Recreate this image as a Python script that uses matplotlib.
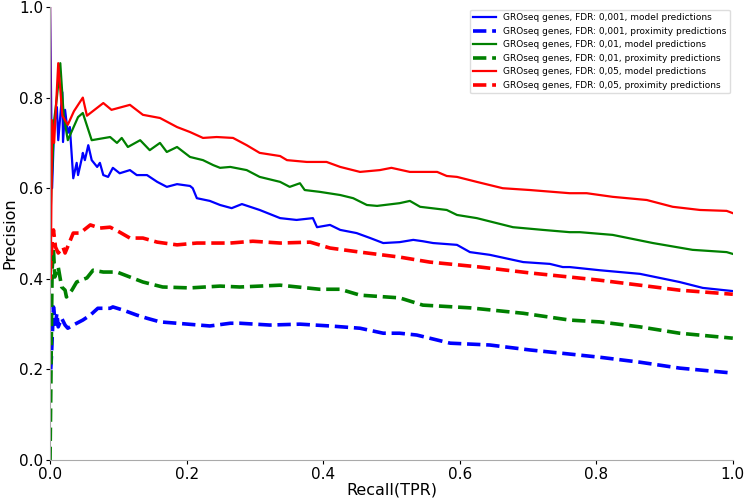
import matplotlib
matplotlib.use("Agg")
import matplotlib.pyplot as plt

# ---- data ----
r_m001 = [0.0, 0.003, 0.006, 0.010, 0.012, 0.018, 0.019, 0.022, 0.026, 0.029, 0.034, 0.039, 0.041,
          0.047, 0.048, 0.051, 0.056, 0.061, 0.069, 0.073, 0.078, 0.085, 0.092, 0.102, 0.117, 0.127,
          0.142, 0.157, 0.171, 0.186, 0.205, 0.209, 0.215, 0.234, 0.249, 0.266, 0.281, 0.307, 0.337,
          0.361, 0.385, 0.391, 0.410, 0.425, 0.449, 0.469, 0.488, 0.512, 0.532, 0.546, 0.561, 0.596,
          0.615, 0.644, 0.693, 0.732, 0.751, 0.761, 0.805, 0.864, 0.922, 0.956, 1.0]
p_m001 = [1.0, 0.60, 0.74, 0.779, 0.706, 0.812, 0.702, 0.773, 0.722, 0.735, 0.622, 0.656, 0.629,
          0.669, 0.678, 0.662, 0.695, 0.662, 0.647, 0.656, 0.629, 0.625, 0.645, 0.633, 0.640, 0.629,
          0.629, 0.614, 0.603, 0.609, 0.605, 0.600, 0.578, 0.572, 0.563, 0.556, 0.565, 0.552, 0.534,
          0.530, 0.534, 0.514, 0.519, 0.508, 0.501, 0.490, 0.479, 0.481, 0.486, 0.483, 0.479, 0.475,
          0.459, 0.453, 0.437, 0.433, 0.426, 0.426, 0.419, 0.411, 0.393, 0.380, 0.373]

r_p001 = [0.001, 0.002, 0.005, 0.008, 0.010, 0.012, 0.017, 0.022, 0.026, 0.034, 0.048, 0.059, 0.070,
          0.088, 0.092, 0.107, 0.127, 0.142, 0.161, 0.186, 0.234, 0.264, 0.278, 0.322, 0.366, 0.410,
          0.454, 0.488, 0.512, 0.537, 0.586, 0.644, 0.703, 0.761, 0.805, 0.864, 0.922, 1.0]
p_p001 = [0.20, 0.227, 0.338, 0.30, 0.324, 0.294, 0.313, 0.298, 0.291, 0.298, 0.309, 0.320, 0.335,
          0.335, 0.338, 0.331, 0.320, 0.313, 0.305, 0.302, 0.296, 0.302, 0.302, 0.298, 0.300, 0.296,
          0.291, 0.280, 0.280, 0.276, 0.258, 0.254, 0.243, 0.234, 0.227, 0.216, 0.203, 0.192]

r_m01 = [0.0, 0.002, 0.006, 0.010, 0.015, 0.020, 0.026, 0.041, 0.048, 0.061, 0.088, 0.098, 0.105,
         0.114, 0.132, 0.146, 0.161, 0.171, 0.186, 0.205, 0.224, 0.239, 0.249, 0.264, 0.288, 0.307,
         0.337, 0.351, 0.366, 0.373, 0.395, 0.425, 0.444, 0.464, 0.479, 0.512, 0.527, 0.542, 0.581,
         0.596, 0.625, 0.678, 0.722, 0.761, 0.776, 0.824, 0.883, 0.941, 0.991, 1.0]
p_m01 = [0.50, 0.60, 0.75, 0.80, 0.876, 0.76, 0.706, 0.757, 0.766, 0.706, 0.713, 0.700, 0.711,
         0.691, 0.706, 0.684, 0.700, 0.680, 0.691, 0.669, 0.662, 0.651, 0.645, 0.647, 0.640, 0.625,
         0.614, 0.603, 0.611, 0.596, 0.592, 0.585, 0.578, 0.563, 0.561, 0.567, 0.572, 0.559, 0.552,
         0.541, 0.534, 0.514, 0.508, 0.503, 0.503, 0.497, 0.479, 0.464, 0.459, 0.455]

r_p01 = [0.0, 0.003, 0.005, 0.007, 0.012, 0.017, 0.022, 0.024, 0.032, 0.039, 0.054, 0.063, 0.078,
         0.098, 0.117, 0.136, 0.165, 0.205, 0.249, 0.278, 0.337, 0.395, 0.425, 0.454, 0.512, 0.546,
         0.615, 0.693, 0.761, 0.805, 0.864, 0.922, 1.0]
p_p01 = [0.0, 0.42, 0.464, 0.404, 0.426, 0.382, 0.375, 0.360, 0.375, 0.393, 0.402, 0.419, 0.415,
         0.415, 0.404, 0.393, 0.382, 0.380, 0.384, 0.382, 0.386, 0.377, 0.377, 0.364, 0.358, 0.342,
         0.336, 0.324, 0.309, 0.305, 0.294, 0.280, 0.269]

r_m05 = [0.0, 0.001, 0.003, 0.006, 0.012, 0.018, 0.026, 0.035, 0.048, 0.054, 0.078, 0.090, 0.117,
         0.136, 0.161, 0.186, 0.205, 0.224, 0.244, 0.268, 0.288, 0.307, 0.337, 0.347, 0.376, 0.405,
         0.425, 0.454, 0.483, 0.500, 0.527, 0.567, 0.581, 0.596, 0.625, 0.663, 0.703, 0.761, 0.786,
         0.824, 0.874, 0.912, 0.952, 0.991, 1.0]
p_m05 = [1.0, 0.40, 0.75, 0.70, 0.876, 0.76, 0.74, 0.77, 0.800, 0.760, 0.788, 0.773, 0.784,
         0.762, 0.755, 0.735, 0.724, 0.711, 0.713, 0.711, 0.695, 0.678, 0.671, 0.662, 0.658, 0.658,
         0.647, 0.636, 0.640, 0.645, 0.636, 0.636, 0.627, 0.625, 0.614, 0.600, 0.596, 0.589, 0.589,
         0.581, 0.574, 0.559, 0.552, 0.550, 0.545]

r_p05 = [0.0, 0.003, 0.005, 0.008, 0.012, 0.019, 0.022, 0.034, 0.044, 0.059, 0.073, 0.088, 0.102,
         0.117, 0.136, 0.157, 0.186, 0.215, 0.264, 0.297, 0.337, 0.381, 0.410, 0.454, 0.512, 0.556,
         0.630, 0.703, 0.761, 0.805, 0.864, 0.922, 1.0]
p_p05 = [0.41, 0.48, 0.508, 0.47, 0.457, 0.470, 0.457, 0.501, 0.501, 0.519, 0.512, 0.514, 0.503,
         0.490, 0.490, 0.481, 0.475, 0.479, 0.479, 0.483, 0.479, 0.481, 0.468, 0.459, 0.448, 0.437,
         0.426, 0.413, 0.404, 0.397, 0.386, 0.375, 0.366]

labels = ["GROseq genes, FDR: 0,001, model predictions",
          "GROseq genes, FDR: 0,001, proximity predictions",
          "GROseq genes, FDR: 0,01, model predictions",
          "GROseq genes, FDR: 0,01, proximity predictions",
          "GROseq genes, FDR: 0,05, model predictions",
          "GROseq genes, FDR: 0,05, proximity predictions"]

fig = plt.figure(figsize=(7.47, 4.99), dpi=100)
ax = fig.add_axes([0.067, 0.078, 0.914, 0.908])

series = [(r_m001, p_m001, "b", "-"), (r_p001, p_p001, "b", "--"),
          (r_m01, p_m01, "g", "-"), (r_p01, p_p01, "g", "--"),
          (r_m05, p_m05, "r", "-"), (r_p05, p_p05, "r", "--")]
for (x, y, c, ls), lab in zip(series, labels):
    ax.plot(x, y, color=c, linestyle=ls, lw=1.6 if ls == "-" else 2.6, label=lab)

ax.set_xlim(0, 1)
ax.set_ylim(0, 1)
ax.set_xticks([0.0, 0.2, 0.4, 0.6, 0.8, 1.0])
ax.set_yticks([0.0, 0.2, 0.4, 0.6, 0.8, 1.0])
ax.tick_params(labelsize=11, colors="black", length=3, pad=2)
for s in ["top", "right"]:
    ax.spines[s].set_visible(False)
for s in ["left", "bottom"]:
    ax.spines[s].set_color("#aaaaaa")
ax.set_xlabel("Recall(TPR)", fontsize=11.5, labelpad=0)
ax.set_ylabel("Precision", fontsize=11.5, labelpad=1)
ax.legend(loc="upper right", fontsize=6.5, frameon=True, framealpha=1, edgecolor="#dddddd",
          handlelength=2.5, borderaxespad=0.3)
fig.savefig("out.png", dpi=100)
